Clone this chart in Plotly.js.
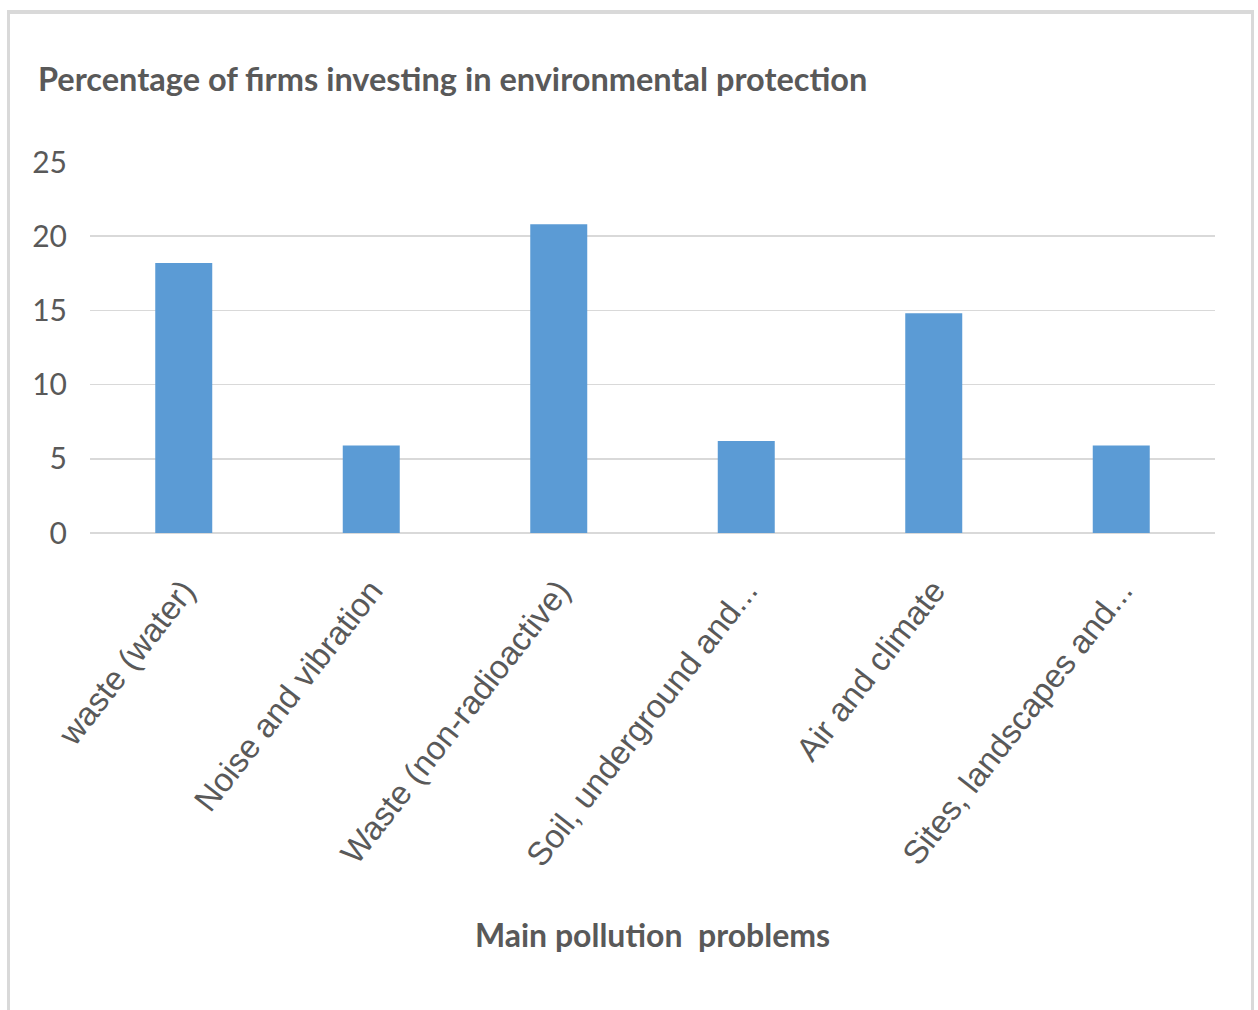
<!DOCTYPE html>
<html>
<head>
<meta charset="utf-8">
<script src="https://cdn.plot.ly/plotly-3.0.1.min.js"></script>
<style>
  html, body { margin: 0; padding: 0; background: #ffffff; }
  #wrap { position: relative; width: 1258px; height: 1010px; }
  #chart { position: absolute; left: 0; top: 0; width: 1258px; height: 1010px; }
  #frame { position: absolute; left: 7px; top: 10px; width: 1241px; height: 1000px;
           border-left: 3px solid #d9d9d9; border-top: 4px solid #d9d9d9; border-right: 3px solid #d9d9d9;
           pointer-events: none; box-sizing: content-box; }
</style>
</head>
<body>
<div id="wrap">
  <div id="chart"></div>
  <div id="frame"></div>
</div>
<script>
const categories = [
  "waste (water)",
  "Noise and vibration",
  "Waste (non-radioactive)",
  "Soil, underground and...",
  "Air and climate",
  "Sites, landscapes and..."
];
const values = [18.2, 5.9, 20.8, 6.2, 14.8, 5.9];
const yTicks = [0, 5, 10, 15, 20, 25];
const chartTitle = "Percentage of firms investing in environmental protection";
const xTitle = "Main pollution  problems";

const textColor = "#595959";

const trace = {
  type: "bar",
  x: categories,
  y: values,
  marker: { color: "#5b9bd5" },
  hoverinfo: "x+y"
};

const layout = {
  width: 1258,
  height: 1010,
  paper_bgcolor: "rgba(0,0,0,0)",
  plot_bgcolor: "rgba(0,0,0,0)",
  margin: { l: 90, r: 43, t: 162, b: 477 },
  bargap: 0.696,
  showlegend: false,
  title: {
    text: chartTitle,
    font: { family: "Lato", size: 32.5, color: textColor, weight: "bold" },
    xref: "container", x: 38 / 1258, xanchor: "left",
    yref: "container", y: 1 - 80 / 1010, yanchor: "middle"
  },
  xaxis: {
    type: "category",
    tickangle: -52,
    tickfont: { family: "Liberation Sans", size: 33, color: textColor },
    showgrid: false,
    zeroline: false,
    showline: false,
    ticks: "outside",
    ticklen: 24,
    tickcolor: "rgba(0,0,0,0)",
    automargin: false,
    title: {
      text: xTitle,
      font: { family: "Lato", size: 32, color: textColor, weight: "bold" },
      standoff: 52
    }
  },
  yaxis: {
    range: [0, 25],
    autorange: false,
    tickvals: yTicks,
    ticktext: yTicks.map(String),
    tickfont: { family: "Lato", size: 30, color: textColor },
    showgrid: true,
    gridcolor: "#d9d9d9",
    gridwidth: 1.5,
    zeroline: true,
    zerolinecolor: "#d9d9d9",
    zerolinewidth: 1.5,
    showline: false,
    ticks: "",
    ticklabelstandoff: 22,
    automargin: false
  }
};

Plotly.newPlot("chart", [trace], layout, { displayModeBar: false, staticPlot: true });
</script>
</body>
</html>
